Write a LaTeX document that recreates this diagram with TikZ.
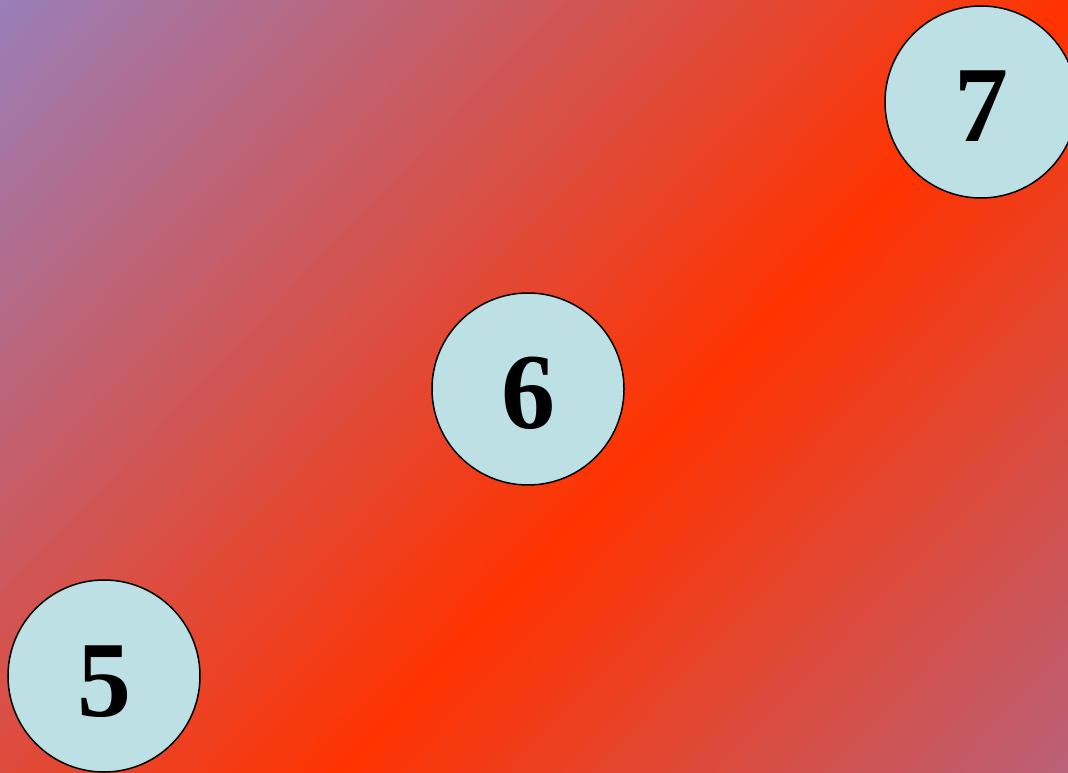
\documentclass[tikz,border=0pt]{standalone}
\usepackage{fontspec}
\setmainfont{Liberation Serif}
\usepackage{xcolor}

\definecolor{ungu}{HTML}{9A7EB8}
\definecolor{merah}{HTML}{FF3300}
\definecolor{ujung}{HTML}{B8627A}
\definecolor{isibulat}{HTML}{BCE0E3}

\tikzset{bulatan/.style={circle, draw=black, line width=1.5pt, fill=isibulat,
    minimum size=192pt, inner sep=0pt, text height=80pt, text depth=0pt,
    font=\fontsize{108}{108}\selectfont\bfseries}}

\begin{document}
\begin{tikzpicture}[x=1pt,y=1pt]

    % Batas gambar
    \useasboundingbox (0,0) rectangle (1068,772);
    \clip (0,0) rectangle (1068,772);

    % Latar bergradasi (ungu - merah - ujung)
    \begin{scope}[shift={(0,772)},rotate=-43.5]
        \foreach \i in {0,...,77}{
            \pgfmathtruncatemacro{\p}{100*\i/77}
            \fill[merah!\p!ungu] (\i*10,-600) rectangle ++(10.6,1400);
        }
        \foreach \i in {0,...,54}{
            \pgfmathtruncatemacro{\p}{100*\i/54}
            \fill[ujung!\p!merah] (770+\i*10,-600) rectangle ++(10.6,1400);
        }
    \end{scope}

    % Lingkaran angka
    \node[bulatan] (n5) at (104,96) {5};
    \node[bulatan] (n6) at (528,383) {6};
    \node[bulatan] (n7) at (981,670) {7};

\end{tikzpicture}
\end{document}
